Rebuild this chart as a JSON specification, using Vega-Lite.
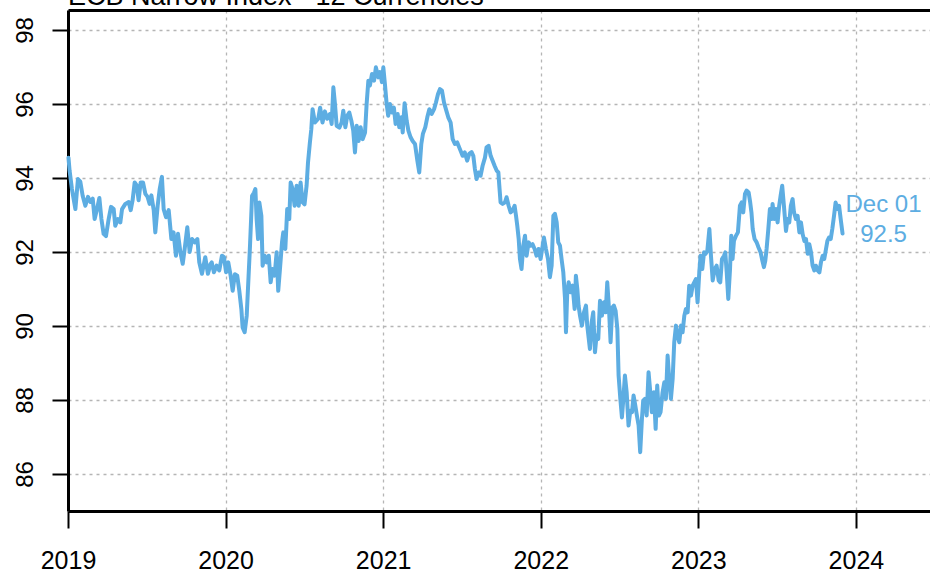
{
  "$schema": "https://vega.github.io/schema/vega-lite/v6.json",
  "autosize": "none",
  "width": 862,
  "height": 501,
  "padding": {"left": 68, "top": 10, "right": 0, "bottom": 62},
  "background": "white",
  "title": {"text": "ECB Narrow Index - 12 Currencies", "anchor": "start", "frame": "group", "fontSize": 27, "font": "Liberation Sans", "fontWeight": "normal", "color": "black", "baseline": "bottom", "offset": 0, "dy": 28},
  "config": {
    "view": {"stroke": null},
    "axis": {"labelFont": "Liberation Sans", "labelFontSize": 24, "labelColor": "black", "domainColor": "black", "domainWidth": 3, "tickColor": "black", "tickWidth": 2, "gridColor": "#b5b5b5", "gridDash": [3, 4], "gridWidth": 1.3, "title": null, "labelFlush": false, "labelOverlap": false, "labelBound": false}
  },
  "layer": [
    {
      "data": {"values": [
        {"t":2019.003,"v":94.55},{"t":2019.010,"v":94.2},{"t":2019.025,"v":93.70},{"t":2019.047,"v":93.16},{"t":2019.063,"v":93.97},{"t":2019.078,"v":93.90},{"t":2019.093,"v":93.52},{"t":2019.110,"v":93.25},{"t":2019.127,"v":93.49},{"t":2019.142,"v":93.35},{"t":2019.157,"v":93.44},{"t":2019.169,"v":92.89},{"t":2019.184,"v":93.16},{"t":2019.199,"v":93.46},{"t":2019.212,"v":92.89},{"t":2019.226,"v":92.49},{"t":2019.241,"v":92.43},{"t":2019.258,"v":92.89},{"t":2019.273,"v":93.22},{"t":2019.290,"v":93.16},{"t":2019.300,"v":92.71},{"t":2019.317,"v":92.89},{"t":2019.332,"v":92.80},{"t":2019.343,"v":93.16},{"t":2019.364,"v":93.30},{"t":2019.385,"v":93.35},{"t":2019.398,"v":93.13},{"t":2019.410,"v":93.40},{"t":2019.423,"v":93.88},{"t":2019.436,"v":93.80},{"t":2019.448,"v":93.40},{"t":2019.461,"v":93.88},{"t":2019.476,"v":93.88},{"t":2019.491,"v":93.57},{"t":2019.505,"v":93.49},{"t":2019.518,"v":93.30},{"t":2019.529,"v":93.53},{"t":2019.544,"v":93.13},{"t":2019.554,"v":92.53},{"t":2019.569,"v":93.25},{"t":2019.582,"v":93.70},{"t":2019.596,"v":94.03},{"t":2019.607,"v":93.16},{"t":2019.622,"v":92.94},{"t":2019.639,"v":93.13},{"t":2019.656,"v":92.35},{"t":2019.670,"v":92.53},{"t":2019.685,"v":91.90},{"t":2019.698,"v":92.49},{"t":2019.713,"v":92.00},{"t":2019.728,"v":91.68},{"t":2019.740,"v":92.07},{"t":2019.757,"v":92.67},{"t":2019.772,"v":92.00},{"t":2019.787,"v":92.35},{"t":2019.804,"v":92.26},{"t":2019.821,"v":92.35},{"t":2019.833,"v":91.72},{"t":2019.850,"v":91.41},{"t":2019.871,"v":91.86},{"t":2019.888,"v":91.41},{"t":2019.905,"v":91.68},
        {"t":2019.912,"v":91.72},{"t":2019.926,"v":91.45},{"t":2019.943,"v":91.63},{"t":2019.960,"v":91.50},{"t":2019.977,"v":91.90},{"t":2019.990,"v":91.86},{"t":2020.003,"v":91.45},{"t":2020.017,"v":91.72},{"t":2020.032,"v":91.36},{"t":2020.045,"v":90.95},{"t":2020.059,"v":91.40},{"t":2020.074,"v":91.36},{"t":2020.087,"v":90.95},{"t":2020.100,"v":90.46},{"t":2020.108,"v":89.96},{"t":2020.121,"v":89.83},{"t":2020.134,"v":90.28},{"t":2020.146,"v":91.36},{"t":2020.155,"v":92.17},{"t":2020.168,"v":93.52},{"t":2020.180,"v":93.60},{"t":2020.189,"v":93.70},{"t":2020.197,"v":92.89},{"t":2020.206,"v":92.35},{"t":2020.214,"v":93.34},{"t":2020.227,"v":92.98},{"t":2020.235,"v":91.63},{"t":2020.248,"v":91.90},{"t":2020.261,"v":91.72},{"t":2020.274,"v":91.90},{"t":2020.286,"v":91.18},{"t":2020.298,"v":91.54},{"t":2020.311,"v":91.36},{"t":2020.324,"v":91.99},{"t":2020.334,"v":90.95},{"t":2020.345,"v":91.54},{"t":2020.358,"v":92.26},{"t":2020.366,"v":92.53},{"t":2020.379,"v":92.08},{"t":2020.391,"v":93.16},{"t":2020.404,"v":92.89},{"t":2020.413,"v":93.88},{"t":2020.425,"v":93.70},{"t":2020.438,"v":93.25},{"t":2020.451,"v":93.79},{"t":2020.464,"v":93.25},{"t":2020.476,"v":93.88},{"t":2020.489,"v":93.34},{"t":2020.501,"v":93.29},{"t":2020.514,"v":93.79},{"t":2020.523,"v":94.42},{"t":2020.535,"v":94.96},{"t":2020.544,"v":95.32},{"t":2020.552,"v":95.86},{"t":2020.567,"v":95.50},{"t":2020.588,"v":95.60},{"t":2020.600,"v":95.90},{"t":2020.615,"v":95.50},{"t":2020.630,"v":95.80},{"t":2020.645,"v":95.60},
        {"t":2020.662,"v":95.73},{"t":2020.673,"v":95.46},{"t":2020.684,"v":96.45},{"t":2020.694,"v":96.00},{"t":2020.705,"v":95.41},{"t":2020.722,"v":95.36},{"t":2020.736,"v":95.50},{"t":2020.747,"v":95.82},{"t":2020.760,"v":95.37},{"t":2020.772,"v":95.68},{"t":2020.785,"v":95.77},{"t":2020.798,"v":95.55},{"t":2020.810,"v":95.28},{"t":2020.821,"v":94.69},{"t":2020.832,"v":95.41},{"t":2020.844,"v":95.00},{"t":2020.857,"v":95.37},{"t":2020.870,"v":95.05},{"t":2020.885,"v":95.23},{"t":2020.895,"v":96.00},{"t":2020.906,"v":96.63},{"t":2020.916,"v":96.50},{"t":2020.929,"v":96.81},{"t":2020.942,"v":96.63},{"t":2020.954,"v":96.99},{"t":2020.969,"v":96.72},{"t":2020.980,"v":96.86},{"t":2020.992,"v":96.59},{"t":2021.001,"v":96.99},{"t":2021.011,"v":96.54},{"t":2021.022,"v":96.00},{"t":2021.032,"v":95.68},{"t":2021.043,"v":96.00},{"t":2021.056,"v":95.77},{"t":2021.068,"v":95.90},{"t":2021.079,"v":95.46},{"t":2021.092,"v":95.73},{"t":2021.102,"v":95.37},{"t":2021.115,"v":95.64},{"t":2021.124,"v":95.23},{"t":2021.136,"v":96.02},{"t":2021.149,"v":95.55},{"t":2021.160,"v":95.28},{"t":2021.174,"v":95.10},{"t":2021.187,"v":95.00},{"t":2021.202,"v":94.92},{"t":2021.217,"v":94.47},{"t":2021.229,"v":94.15},{"t":2021.242,"v":94.92},{"t":2021.252,"v":95.19},{"t":2021.267,"v":95.37},{"t":2021.280,"v":95.64},{"t":2021.293,"v":95.86},{"t":2021.308,"v":95.73},{"t":2021.323,"v":95.86},{"t":2021.335,"v":96.04},{"t":2021.348,"v":96.27},{"t":2021.360,"v":96.40},{"t":2021.373,"v":96.36},{"t":2021.386,"v":96.04},{"t":2021.398,"v":95.86},{"t":2021.413,"v":95.64},{"t":2021.428,"v":95.50},{"t":2021.441,"v":95.05},{"t":2021.455,"v":94.92},{"t":2021.470,"v":94.96},{"t":2021.487,"v":94.78},{"t":2021.504,"v":94.60},{"t":2021.518,"v":94.69},{"t":2021.533,"v":94.47},{"t":2021.546,"v":94.65},
        {"t":2021.561,"v":94.70},{"t":2021.572,"v":94.60},{"t":2021.582,"v":94.24},{"t":2021.593,"v":93.97},{"t":2021.604,"v":94.15},{"t":2021.618,"v":94.06},{"t":2021.631,"v":94.33},{"t":2021.646,"v":94.55},{"t":2021.656,"v":94.83},{"t":2021.669,"v":94.87},{"t":2021.682,"v":94.60},{"t":2021.694,"v":94.47},{"t":2021.707,"v":94.33},{"t":2021.720,"v":94.20},{"t":2021.731,"v":94.15},{"t":2021.737,"v":93.79},{"t":2021.745,"v":93.34},{"t":2021.758,"v":93.30},{"t":2021.773,"v":93.34},{"t":2021.783,"v":93.48},{"t":2021.796,"v":93.25},{"t":2021.809,"v":93.07},{"t":2021.821,"v":93.12},{"t":2021.834,"v":93.25},{"t":2021.843,"v":92.98},{"t":2021.851,"v":92.71},{"t":2021.860,"v":92.35},{"t":2021.868,"v":91.81},{"t":2021.878,"v":91.54},{"t":2021.889,"v":92.17},{"t":2021.900,"v":92.44},{"t":2021.910,"v":91.90},{"t":2021.923,"v":92.26},{"t":2021.936,"v":92.17},{"t":2021.948,"v":92.21},{"t":2021.961,"v":92.08},{"t":2021.973,"v":91.90},{"t":2021.986,"v":92.08},{"t":2021.999,"v":91.81},{"t":2022.012,"v":92.17},{"t":2022.020,"v":92.39},{"t":2022.033,"v":92.08},{"t":2022.046,"v":91.81},{"t":2022.058,"v":91.32},{"t":2022.069,"v":91.63},{"t":2022.080,"v":92.98},{"t":2022.090,"v":93.03},{"t":2022.101,"v":92.80},{"t":2022.111,"v":92.26},{"t":2022.122,"v":92.17},{"t":2022.132,"v":91.81},{"t":2022.143,"v":91.45},{"t":2022.154,"v":90.73},{"t":2022.160,"v":89.83},{"t":2022.168,"v":90.91},{"t":2022.177,"v":91.18},{"t":2022.190,"v":90.91},{"t":2022.202,"v":91.09},{"t":2022.215,"v":90.46},{"t":2022.223,"v":91.36},{"t":2022.232,"v":91.00},{"t":2022.240,"v":90.55},{"t":2022.249,"v":90.28},{"t":2022.261,"v":90.01},{"t":2022.274,"v":90.37},{"t":2022.287,"v":90.55},{"t":2022.295,"v":90.01},
        {"t":2022.312,"v":89.38},{"t":2022.323,"v":90.10},{"t":2022.333,"v":90.37},{"t":2022.344,"v":89.29},{"t":2022.354,"v":89.74},{"t":2022.365,"v":89.65},{"t":2022.376,"v":90.68},{"t":2022.388,"v":90.28},{"t":2022.401,"v":90.64},{"t":2022.412,"v":90.37},{"t":2022.422,"v":91.18},{"t":2022.433,"v":90.46},{"t":2022.443,"v":89.56},{"t":2022.454,"v":90.50},{"t":2022.464,"v":90.55},{"t":2022.475,"v":90.41},{"t":2022.486,"v":89.92},{"t":2022.494,"v":88.66},{"t":2022.505,"v":88.03},{"t":2022.515,"v":87.53},{"t":2022.524,"v":88.03},{"t":2022.534,"v":88.66},{"t":2022.545,"v":88.21},{"t":2022.557,"v":87.31},{"t":2022.568,"v":87.71},{"t":2022.579,"v":87.67},{"t":2022.589,"v":88.12},{"t":2022.600,"v":87.85},{"t":2022.610,"v":87.58},{"t":2022.621,"v":87.31},{"t":2022.631,"v":86.59},{"t":2022.642,"v":87.49},{"t":2022.650,"v":87.98},{"t":2022.661,"v":88.03},{"t":2022.672,"v":87.58},{"t":2022.684,"v":88.75},{"t":2022.695,"v":88.21},{"t":2022.705,"v":87.67},{"t":2022.718,"v":88.21},{"t":2022.729,"v":87.22},{"t":2022.739,"v":88.39},{"t":2022.750,"v":87.58},{"t":2022.760,"v":87.67},{"t":2022.773,"v":88.21},{"t":2022.784,"v":88.48},{"t":2022.794,"v":88.03},{"t":2022.805,"v":89.20},{"t":2022.815,"v":88.57},{"t":2022.826,"v":88.03},{"t":2022.837,"v":88.57},{"t":2022.847,"v":89.56},{"t":2022.858,"v":90.01},{"t":2022.868,"v":89.74},{"t":2022.879,"v":89.56},{"t":2022.890,"v":90.01},{"t":2022.900,"v":89.83},{"t":2022.911,"v":90.28},{"t":2022.921,"v":90.46},{"t":2022.932,"v":90.37},{"t":2022.942,"v":91.09},{"t":2022.953,"v":90.82},{"t":2022.964,"v":91.09},{"t":2022.974,"v":91.18},{"t":2022.985,"v":91.27},{"t":2022.995,"v":90.64},{"t":2023.006,"v":91.45},{"t":2023.014,"v":91.90},{"t":2023.025,"v":91.54},{"t":2023.036,"v":91.99},{"t":2023.046,"v":91.95},{"t":2023.057,"v":92.03},{"t":2023.070,"v":92.62},{"t":2023.080,"v":91.90},{"t":2023.091,"v":91.23},{"t":2023.104,"v":91.54},{"t":2023.116,"v":91.63},{"t":2023.129,"v":91.23},{"t":2023.139,"v":91.18},{"t":2023.150,"v":91.81},{"t":2023.163,"v":91.90},{"t":2023.171,"v":91.99},{"t":2023.180,"v":91.45},{"t":2023.190,"v":90.73},
        {"t":2023.201,"v":91.54},{"t":2023.209,"v":92.44},{"t":2023.217,"v":91.81},{"t":2023.226,"v":92.30},{"t":2023.239,"v":92.44},{"t":2023.251,"v":92.53},{"t":2023.264,"v":93.25},{"t":2023.275,"v":93.34},{"t":2023.285,"v":93.07},{"t":2023.296,"v":93.57},{"t":2023.306,"v":93.66},{"t":2023.319,"v":93.61},{"t":2023.329,"v":93.34},{"t":2023.337,"v":93.07},{"t":2023.345,"v":92.62},{"t":2023.357,"v":92.35},{"t":2023.370,"v":92.26},{"t":2023.382,"v":92.12},{"t":2023.395,"v":91.99},{"t":2023.406,"v":91.77},{"t":2023.416,"v":91.59},{"t":2023.425,"v":91.77},{"t":2023.433,"v":92.08},{"t":2023.444,"v":92.62},{"t":2023.454,"v":93.16},{"t":2023.465,"v":92.89},{"t":2023.471,"v":93.30},{"t":2023.482,"v":92.89},{"t":2023.492,"v":93.16},{"t":2023.503,"v":92.80},{"t":2023.513,"v":93.25},{"t":2023.522,"v":93.52},{"t":2023.532,"v":93.79},{"t":2023.543,"v":93.25},{"t":2023.556,"v":92.57},{"t":2023.566,"v":92.89},{"t":2023.577,"v":92.80},{"t":2023.587,"v":93.25},{"t":2023.598,"v":93.43},{"t":2023.607,"v":93.07},{"t":2023.619,"v":92.89},{"t":2023.630,"v":92.98},{"t":2023.641,"v":92.53},{"t":2023.651,"v":92.80},{"t":2023.662,"v":92.48},{"t":2023.673,"v":92.30},{"t":2023.683,"v":92.35},{"t":2023.694,"v":91.95},{"t":2023.704,"v":92.21},{"t":2023.715,"v":91.99},{"t":2023.725,"v":91.63},{"t":2023.736,"v":91.50},{"t":2023.746,"v":91.63},{"t":2023.757,"v":91.50},{"t":2023.768,"v":91.45},{"t":2023.778,"v":91.72},{"t":2023.789,"v":91.90},{"t":2023.799,"v":91.81},{"t":2023.810,"v":92.08},{"t":2023.819,"v":92.30},{"t":2023.829,"v":92.39},{"t":2023.840,"v":92.35},{"t":2023.850,"v":92.62},{"t":2023.861,"v":92.98},{"t":2023.871,"v":93.34},{"t":2023.882,"v":93.16},{"t":2023.893,"v":93.25},{"t":2023.903,"v":92.90},{"t":2023.915,"v":92.50}
      ]},
      "mark": {"type": "line", "color": "#5DADE2", "strokeWidth": 4, "strokeJoin": "round", "strokeCap": "round"},
      "encoding": {
        "x": {"field": "t", "type": "quantitative", "scale": {"domain": [2019, 2024.47], "nice": false, "zero": false},
              "axis": {"orient": "bottom", "values": [2019, 2020, 2021, 2022, 2023, 2024], "format": "d", "grid": true, "tickSize": 17, "labelPadding": 20, "labelFontSize": 25}},
        "y": {"field": "v", "type": "quantitative", "scale": {"domain": [85.0, 98.54], "nice": false, "zero": false},
              "axis": {"orient": "left", "values": [86, 88, 90, 92, 94, 96, 98], "grid": true, "tickSize": 16, "labelAngle": 270, "labelAlign": "center", "labelBaseline": "alphabetic", "labelPadding": 20}}
      }
    },
    {
      "data": {"values": [{"t": 2023.915, "v": 92.5, "label": "Dec 01\n92.5"}]},
      "mark": {"type": "text", "color": "#5DADE2", "font": "Liberation Sans", "fontSize": 24, "lineHeight": 30, "lineBreak": "\n", "align": "center", "baseline": "alphabetic", "dx": 41, "dy": -21},
      "encoding": {
        "x": {"field": "t", "type": "quantitative", "axis": {"orient": "top", "labels": false, "ticks": false, "grid": false, "domain": true, "minExtent": 0, "maxExtent": 0}},
        "y": {"field": "v", "type": "quantitative"},
        "text": {"field": "label", "type": "nominal"}
      }
    }
  ],
  "resolve": {"axis": {"x": "independent"}}
}
